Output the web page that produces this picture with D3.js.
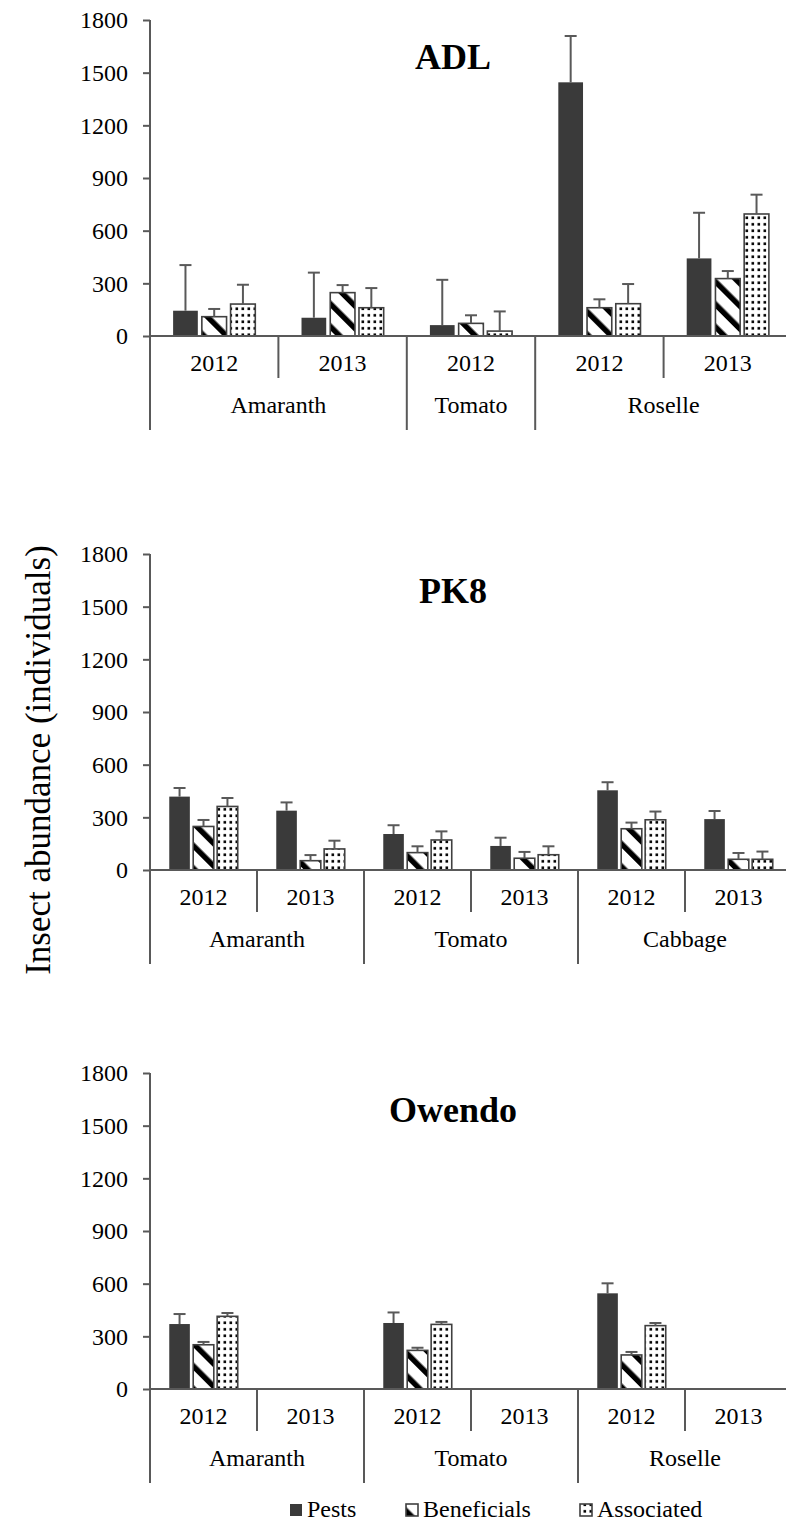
<!DOCTYPE html>
<html><head><meta charset="utf-8">
<script src="https://cdn.jsdelivr.net/npm/d3@7"></script>
<style>html,body{margin:0;padding:0;background:#fff;}svg{display:block;} text{font-family:"Liberation Serif","Times New Roman",serif;}</style>
</head><body>
<script>
// ---------- DATA ----------
const seriesNames = ["Pests", "Beneficials", "Associated"];
const yTicks = [0, 300, 600, 900, 1200, 1500, 1800];

const panelTitles = ["ADL", "PK8", "Owendo"];

const adlCrop = ["Amaranth", "Amaranth", "Tomato", "Roselle", "Roselle"];
const adlYear = ["2012", "2013", "2012", "2012", "2013"];
const adlPests = [144, 104, 62, 1445, 442];
const adlPestsErr = [260, 257, 258, 264, 260];
const adlBenef = [110, 247, 72, 161, 327];
const adlBenefErr = [44, 43, 46, 48, 43];
const adlAssoc = [182, 161, 28, 184, 695];
const adlAssocErr = [110, 112, 112, 112, 110];

const pk8Crop = ["Amaranth", "Amaranth", "Tomato", "Tomato", "Cabbage", "Cabbage"];
const pk8Year = ["2012", "2013", "2012", "2013", "2012", "2013"];
const pk8Pests = [418, 338, 205, 137, 454, 290];
const pk8PestsErr = [49, 47, 50, 47, 46, 46];
const pk8Benef = [248, 53, 99, 67, 235, 61];
const pk8BenefErr = [37, 32, 36, 36, 35, 36];
const pk8Assoc = [362, 120, 171, 87, 286, 61];
const pk8AssocErr = [48, 47, 49, 48, 47, 44];

const owCrop = ["Amaranth", "Amaranth", "Tomato", "Tomato", "Roselle", "Roselle"];
const owYear = ["2012", "2013", "2012", "2013", "2012", "2013"];
const owPests = [370, null, 376, null, 545, null];
const owPestsErr = [57, null, 60, null, 57, null];
const owBenef = [252, null, 220, null, 194, null];
const owBenefErr = [16, null, 15, null, 17, null];
const owAssoc = [414, null, 368, null, 361, null];
const owAssocErr = [19, null, 14, null, 15, null];

const yAxisLabel = "Insect abundance (individuals)";

// ---------- LAYOUT ----------
const W = 786, H = 1521;
const X0 = 150, X1 = 792, PLOT_H = 316;
const zeroYs = [336, 870, 1389];
const FONT = "Liberation Serif, Times New Roman, serif";
const FS = 24;
const AXIS = "#595959";
const DARK = "#3a3a3a";

const panels = [
  {title: panelTitles[0], crop: adlCrop, year: adlYear,
   vals: [adlPests, adlBenef, adlAssoc], errs: [adlPestsErr, adlBenefErr, adlAssocErr]},
  {title: panelTitles[1], crop: pk8Crop, year: pk8Year,
   vals: [pk8Pests, pk8Benef, pk8Assoc], errs: [pk8PestsErr, pk8BenefErr, pk8AssocErr]},
  {title: panelTitles[2], crop: owCrop, year: owYear,
   vals: [owPests, owBenef, owAssoc], errs: [owPestsErr, owBenefErr, owAssocErr]},
];

const svg = d3.select("body").append("svg").attr("width", W).attr("height", H);

function txt(sel) {
  return sel.append("text").attr("font-family", FONT).style("font-family", FONT).attr("fill", "#000");
}

// patterns
const defs = svg.append("defs");
const stripe = defs.append("pattern").attr("id", "stripe").attr("patternUnits", "userSpaceOnUse")
  .attr("width", 16).attr("height", 16).attr("patternTransform", "rotate(-45)");
stripe.append("rect").attr("width", 16).attr("height", 16).attr("fill", "#fff");
stripe.append("rect").attr("x", 0).attr("width", 5.5).attr("height", 16).attr("fill", "#000");

const dots = defs.append("pattern").attr("id", "dots").attr("patternUnits", "userSpaceOnUse")
  .attr("width", 6).attr("height", 6.5);
dots.append("rect").attr("width", 6).attr("height", 6.5).attr("fill", "#fff");
dots.append("rect").attr("x", 1.5).attr("y", 2).attr("width", 2.6).attr("height", 2.6).attr("fill", "#000");

const fills = [DARK, "url(#stripe)", "url(#dots)"];
const strokes = [DARK, "#404040", "#404040"];

panels.forEach((p, pi) => {
  const zeroY = zeroYs[pi];
  const y = d3.scaleLinear().domain([0, 1800]).range([zeroY, zeroY - PLOT_H]);
  const idx = p.crop.map((_, i) => i);
  const x = d3.scaleBand().domain(idx).range([X0, X1]).padding(0);
  const bw = x.bandwidth();
  const xs = d3.scaleBand().domain(d3.range(3)).range([bw * 0.18, bw * 0.82]).paddingInner(0.14);

  const g = svg.append("g");

  // y axis
  const yAxis = d3.axisLeft(y).tickValues(yTicks).tickFormat(d3.format("d"))
    .tickSize(7).tickSizeOuter(0).tickPadding(15);
  const ya = g.append("g").attr("transform", `translate(${X0},0)`).call(yAxis)
    .attr("font-family", FONT).attr("font-size", FS);
  ya.select(".domain").remove();
  ya.selectAll(".tick line").attr("stroke", AXIS).attr("stroke-width", 2);
  ya.selectAll(".tick text").attr("font-size", FS).attr("font-family", FONT)
    .style("font-family", FONT).attr("fill", "#000");
  g.append("line").attr("x1", X0).attr("x2", X0).attr("y1", y(1800)).attr("y2", zeroY + 94)
    .attr("stroke", AXIS).attr("stroke-width", 2);

  // bars
  p.vals.forEach((vals, si) => {
    idx.forEach(i => {
      const v = vals[i];
      if (v == null) return;
      const bx = x(i) + xs(si);
      g.append("rect").attr("x", bx).attr("y", y(v)).attr("width", xs.bandwidth())
        .attr("height", zeroY - y(v)).attr("fill", fills[si]).attr("stroke", strokes[si])
        .attr("stroke-width", si === 0 ? 0 : 1.6);
      const e = p.errs[si][i];
      if (e != null) {
        const cx = bx + xs.bandwidth() / 2;
        g.append("line").attr("x1", cx).attr("x2", cx).attr("y1", y(v)).attr("y2", y(v + e))
          .attr("stroke", AXIS).attr("stroke-width", 2);
        g.append("line").attr("x1", cx - 6).attr("x2", cx + 6).attr("y1", y(v + e)).attr("y2", y(v + e))
          .attr("stroke", AXIS).attr("stroke-width", 2);
      }
    });
  });

  // x axis baseline
  g.append("line").attr("x1", X0).attr("x2", X1).attr("y1", zeroY).attr("y2", zeroY)
    .attr("stroke", AXIS).attr("stroke-width", 2);

  // dividers
  idx.forEach(i => {
    if (i === 0) return;
    const isCat = p.crop[i] !== p.crop[i - 1];
    g.append("line").attr("x1", x(i)).attr("x2", x(i)).attr("y1", zeroY)
      .attr("y2", zeroY + (isCat ? 94 : 42)).attr("stroke", AXIS).attr("stroke-width", 2);
  });
  g.append("line").attr("x1", X1).attr("x2", X1).attr("y1", zeroY).attr("y2", zeroY + 94)
    .attr("stroke", AXIS).attr("stroke-width", 2);

  // year labels
  idx.forEach(i => {
    txt(g).attr("x", x(i) + bw / 2).attr("y", zeroY + 35).attr("text-anchor", "middle")
      .attr("font-size", FS).text(p.year[i]);
  });
  // crop labels
  const crops = [...new Set(p.crop)];
  crops.forEach(c => {
    const ids = idx.filter(i => p.crop[i] === c);
    const cx = (x(ids[0]) + x(ids[ids.length - 1]) + bw) / 2;
    txt(g).attr("x", cx).attr("y", zeroY + 77).attr("text-anchor", "middle")
      .attr("font-size", FS).text(c);
  });

  // title
  txt(g).attr("x", 453).attr("y", zeroY - 267).attr("text-anchor", "middle")
    .attr("font-size", 36).attr("font-weight", "bold").text(p.title);
});

// y axis label
txt(svg).attr("transform", "translate(50,760) rotate(-90)").attr("text-anchor", "middle")
  .attr("font-size", 35).text(yAxisLabel);

// legend
const legX = [290, 406, 580];
seriesNames.forEach((s, si) => {
  svg.append("rect").attr("x", legX[si]).attr("y", 1504).attr("width", 12).attr("height", 12)
    .attr("fill", fills[si]).attr("stroke", strokes[si]).attr("stroke-width", si === 0 ? 0 : 1.6);
  txt(svg).attr("x", legX[si] + 17).attr("y", 1517).attr("font-size", FS).text(s);
});
</script>
</body></html>
